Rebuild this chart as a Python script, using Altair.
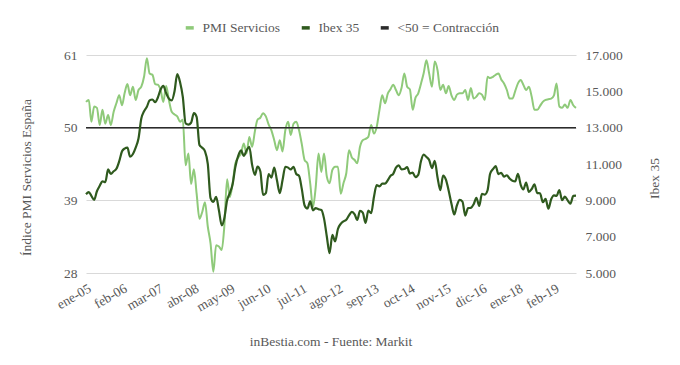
import altair as alt
import pandas as pd

# Monthly series, Jan 2005 - Oct 2019
pmi = [
    53.9, 54.2, 50.9, 53.2, 53.0, 50.4, 52.7, 50.6, 51.9, 50.4, 52.4, 53.7,
    54.9, 53.4, 55.2, 56.6, 54.9, 56.2, 54.2, 55.7, 56.2, 57.7, 60.5, 58.2,
    58.0, 56.6, 56.5, 55.7, 53.9, 56.3, 54.2, 52.4, 52.0, 51.7, 50.9, 51.2,
    44.3, 46.1, 41.5, 43.7, 40.0, 36.2, 37.2, 38.7, 35.0, 32.5, 28.2, 32.2,
    32.0, 31.5, 35.0, 42.2, 39.5, 41.6, 44.6, 45.5, 46.1, 47.6, 46.1, 48.6,
    47.1, 49.5, 51.2, 51.5, 52.2, 51.7, 50.5, 49.6, 48.1, 46.6, 48.1, 46.4,
    49.6, 50.9, 48.9, 50.6, 50.9, 49.6, 47.5, 45.1, 44.6, 41.6, 38.0, 41.0,
    46.1, 43.3, 46.1, 42.6, 41.6, 43.6, 44.1, 44.1, 40.0, 41.6, 43.1, 46.6,
    45.5, 45.1, 44.6, 47.1, 48.1, 48.3, 48.6, 50.4, 49.1, 50.1, 52.7, 54.9,
    53.7, 55.2, 55.8, 56.5, 55.7, 54.9, 56.0, 58.2, 56.2, 55.8, 52.7, 54.5,
    55.2, 56.7, 58.2, 60.2, 58.2, 56.2, 60.0, 58.7, 55.7, 56.5, 55.2, 56.3,
    54.9, 54.2, 55.0, 55.2, 55.2, 55.7, 54.2, 56.0, 54.4, 54.7, 55.2, 55.0,
    54.2, 57.7, 57.5, 57.7, 58.0, 58.2, 57.3, 56.7, 55.7, 54.4, 54.4, 55.5,
    56.7, 57.2, 56.5, 55.7, 56.2, 54.7, 52.7, 52.7, 53.3, 53.9, 54.2, 54.3,
    54.4, 54.9, 56.7, 53.2, 53.0, 53.5, 53.0, 54.2, 53.4, 53.0,
]
ibex = [
    9339, 9450, 9250, 9030, 9500, 9800, 10050, 10000, 10700, 10450, 10600, 10734,
    11150, 11700, 11850, 11900, 11400, 11550, 11900, 12400, 13500, 13900, 14150, 14500,
    14550, 14400, 14650, 15100, 15300, 14900, 14600, 14500, 15000, 15950, 15500, 14700,
    13230, 13170, 13270, 13800, 13600, 12050, 11900, 11700, 10990, 9120, 8910, 9195,
    8450, 7620, 8000, 9000, 9400, 9900, 10850, 11450, 11750, 11450, 11750, 11950,
    10950, 10400, 10850, 10600, 9300, 9400, 10450, 10250, 10800, 10100, 9400, 10100,
    10850, 10800, 10700, 10850, 10450, 10350, 9630, 8720, 8550, 8950, 8450, 8566,
    8510, 8466, 8008, 7011, 6090, 7102, 6738, 7420, 7708, 7843, 7935, 8168,
    8362, 8230, 7920, 8419, 8320, 7762, 8434, 8290, 9186, 9838, 9771, 9917,
    9920, 10114, 10340, 10459, 10798, 10923, 10707, 10728, 10826, 10478, 10523, 10280,
    10403, 11178, 11521, 11385, 11218, 10770, 11180, 10260, 9560, 10360, 10140, 9544,
    8815, 8220, 8723, 9025, 8930, 8163, 8570, 8588, 8779, 9143, 8689, 9352,
    9315, 9555, 10463, 10715, 10880, 10445, 10515, 10300, 10382, 10198, 10077, 10044,
    10452, 9840, 9600, 9980, 9466, 9623, 9875, 9399, 9389, 8894, 9077, 8540,
    9057, 9277, 9240, 9570, 9004, 9199, 9000, 8812, 9244, 9258,
]
months_es = ["ene", "feb", "mar", "abr", "may", "jun", "jul", "ago", "sep", "oct", "nov", "dic"]
tick_years = [2005, 2006, 2007, 2008, 2009, 2010, 2011, 2012, 2013, 2014, 2015, 2016, 2018, 2019]
tick_months = [1, 2, 3, 4, 5, 6, 7, 8, 9, 10, 11, 12, 1, 2]
series_names = ["PMI Servicios", "Ibex 35", "<50 = Contracción"]
series_colors = ["#8fca7a", "#2f5a1e", "#2b2b2b"]

dates = pd.date_range("2005-01-01", periods=len(pmi), freq="MS").strftime("%Y-%m-%d")
df = pd.DataFrame({"fecha": dates, "pmi": pmi, "ibex": ibex})
df_rule = pd.DataFrame({"serie": [series_names[2]]})

FONT = "Liberation Serif"
GREY = "#595959"

color_scale = alt.Scale(domain=series_names, range=series_colors)

xvals = [alt.DateTime(year=y, month=m, date=1) for y, m in zip(tick_years, tick_months)]
month_arr = "[" + ",".join("'%s'" % m for m in months_es) + "]"
x_enc = alt.X(
    "fecha:T",
    scale=alt.Scale(domain=[alt.DateTime(year=2005, month=1, date=1),
                            alt.DateTime(year=2019, month=10, date=1)]),
    axis=alt.Axis(
        values=xvals, title=None, grid=False, domain=False, ticks=False,
        labelExpr=month_arr + "[month(datum.value)] + '-' + timeFormat(datum.value, '%y')",
        labelAngle=330, labelAlign="right", labelBaseline="top", labelPadding=8,
        labelOverlap=False, labelFlush=False, labelBound=False,
        labelFont=FONT, labelFontSize=13.5, labelColor=GREY,
    ),
)

legend = alt.Legend(
    title=None, orient="none", direction="horizontal", legendX=97, legendY=-34,
    symbolType="stroke", symbolSize=64, symbolStrokeWidth=3.5,
    labelFont=FONT, labelFontSize=13.5, labelColor=GREY, labelOffset=6, columnPadding=13,
)
color_enc = alt.Color("serie:N", scale=color_scale, legend=legend)

pmi_line = alt.Chart(df).transform_calculate(serie="'PMI Servicios'").mark_line(
    strokeWidth=2, interpolate="monotone"
).encode(
    x=x_enc,
    y=alt.Y(
        "pmi:Q",
        scale=alt.Scale(domain=[28, 61], nice=False, zero=False),
        axis=alt.Axis(
            values=[28, 39, 50, 61], title="Índice PMI Servicios España",
            grid=True, gridColor="#d9d9d9", domain=False, ticks=False,
            labelFont=FONT, labelFontSize=13.5, labelColor=GREY, labelPadding=9,
            titleFont=FONT, titleFontSize=13.5, titleColor=GREY, titleFontWeight="normal",
            titleX=-60, titleY=122, titleBaseline="middle", titleAlign="center", titleAngle=270,
        ),
    ),
    color=color_enc,
)

rule50 = alt.Chart(df_rule).mark_rule(strokeWidth=1.5).encode(
    y=alt.datum(50),
    color=color_enc,
)

ibex_line = alt.Chart(df).transform_calculate(serie="'Ibex 35'").mark_line(
    strokeWidth=2.2, interpolate="monotone"
).encode(
    x=x_enc,
    y=alt.Y(
        "ibex:Q",
        scale=alt.Scale(domain=[5000, 17000], nice=False, zero=False),
        axis=alt.Axis(
            orient="right", values=list(range(5000, 17001, 2000)), title="Ibex 35",
            grid=False, domain=False, ticks=False,
            labelExpr="replace(format(datum.value, ','), ',', '.')",
            labelFont=FONT, labelFontSize=13.5, labelColor=GREY, labelPadding=9,
            titleFont=FONT, titleFontSize=13.5, titleColor=GREY, titleFontWeight="normal",
            titleX=78, titleY=123, titleBaseline="middle", titleAlign="center", titleAngle=270,
        ),
    ),
    color=color_enc,
)

chart = alt.layer(
    alt.layer(pmi_line, rule50),
    ibex_line,
).resolve_scale(y="independent").properties(
    width=490, height=218,
    autosize=alt.AutoSizeParams(type="none"),
    padding={"left": 78, "top": 47, "right": 96, "bottom": 84},
    title=alt.TitleParams(
        "inBestia.com - Fuente: Markit", orient="bottom", anchor="middle", offset=22,
        font=FONT, fontSize=13.5, color=GREY, fontWeight="normal",
    ),
).configure_view(stroke=None).configure_legend(
    labelFont=FONT, labelFontSize=13.5, labelColor=GREY,
)

chart.save("out.html", embed_options={"renderer": "svg", "actions": False})
